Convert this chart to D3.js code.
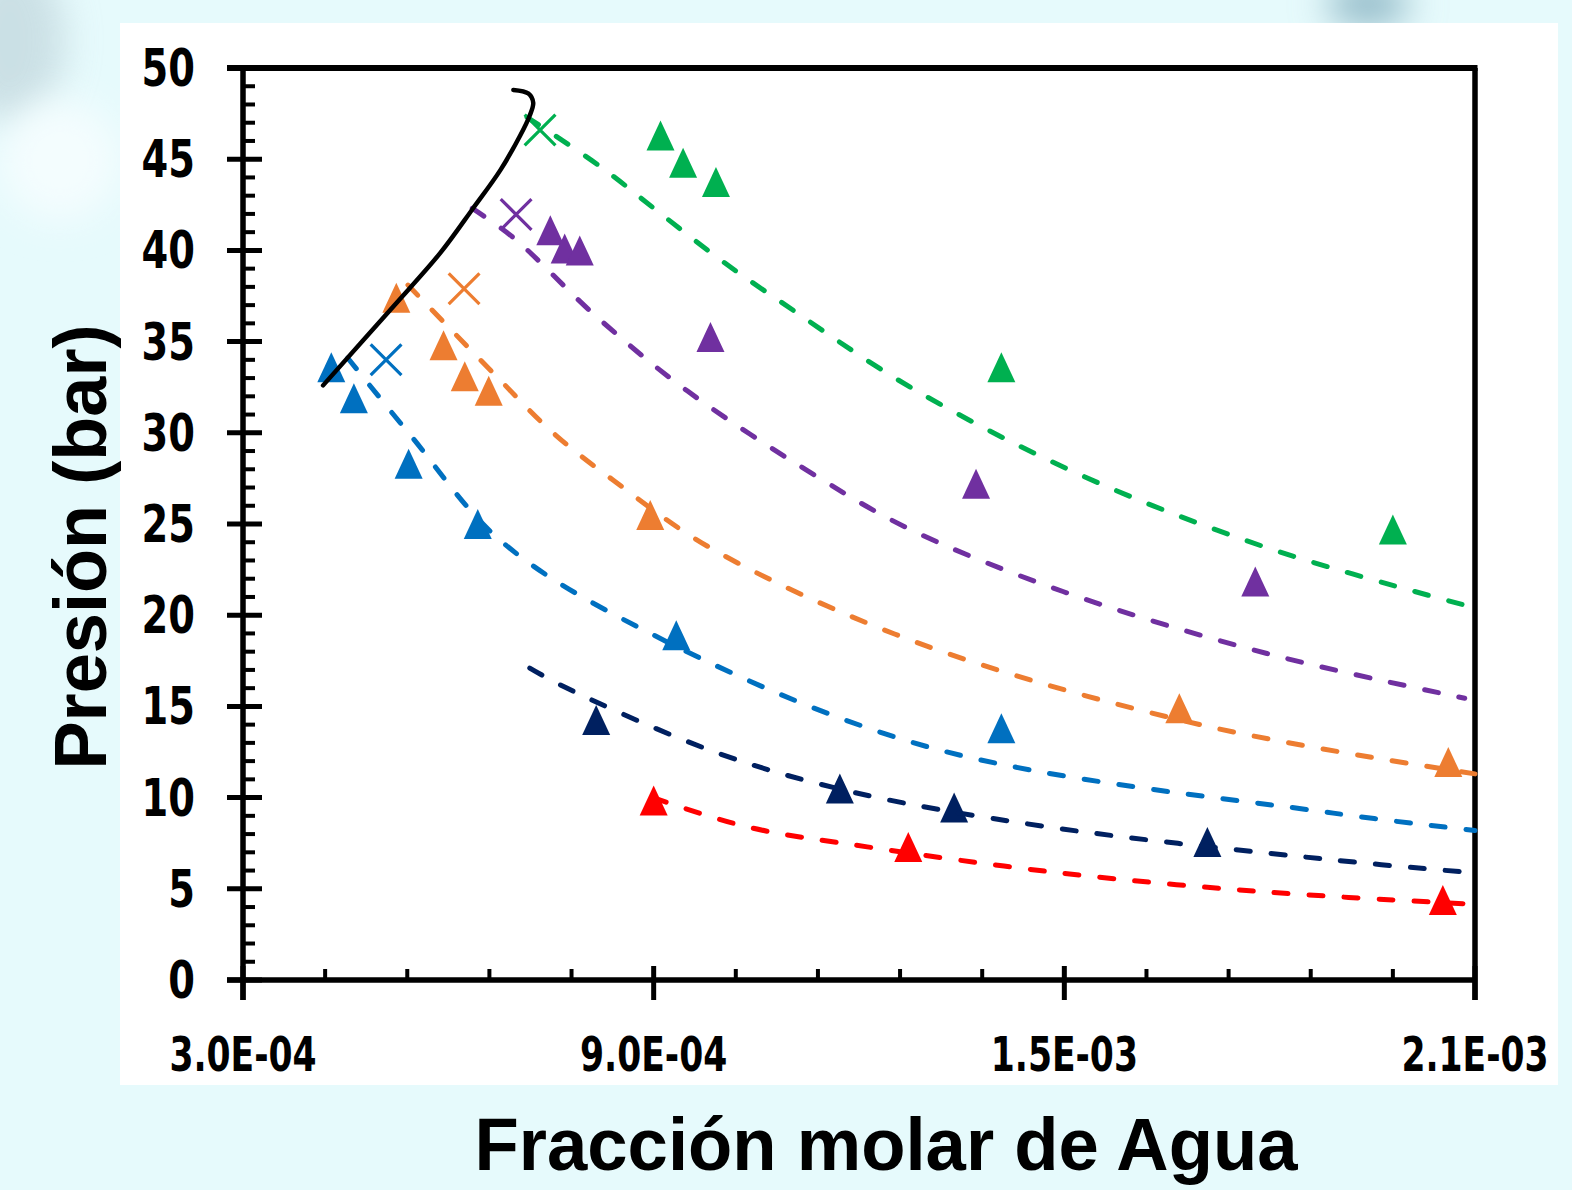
<!DOCTYPE html>
<html><head><meta charset="utf-8">
<script src="https://cdn.jsdelivr.net/npm/d3@7"></script>
<style>body{margin:0;background:#e6fafc}svg{display:block}</style>
</head><body>
<svg id="c" width="1572" height="1190"></svg>
<script>
// ---- data (x = water mole fraction, y = pressure in bar) ----
const xTicks = [3.0e-4, 9.0e-4, 1.5e-3, 2.1e-3];
const xTickLabels = ["3.0E-04", "9.0E-04", "1.5E-03", "2.1E-03"];
const yTicks = [0, 5, 10, 15, 20, 25, 30, 35, 40, 45, 50];
const yTickLabels = ["0", "5", "10", "15", "20", "25", "30", "35", "40", "45", "50"];

const envelope = [[4.17e-4,32.6],[5.19e-4,36.9],[5.88e-4,39.85],[6.36e-4,42.3],[6.76e-4,44.4],[7.05e-4,46.3],[7.19e-4,47.4],[7.24e-4,48.1],[7.17e-4,48.6],[6.95e-4,48.8]];

const blueTri = [[4.29e-4,33.6],[4.62e-4,31.9],[5.42e-4,28.3],[6.43e-4,25.0],[9.33e-4,18.9],[1.408e-3,13.8]];
const blueCross = [[5.09e-4,34.0]];
const blueCurve = [[4.53e-4,34.1],[5.44e-4,29.9],[6.76e-4,24.1],[8.9e-4,19.1],[1.299e-3,12.8],[1.893e-3,9.15],[2.1e-3,8.2]];

const orangeTri = [[5.24e-4,37.4],[5.93e-4,34.8],[6.24e-4,33.1],[6.59e-4,32.3],[8.95e-4,25.5],[1.668e-3,14.9],[2.061e-3,11.95]];
const orangeCross = [[6.23e-4,37.9]];
const orangeCurve = [[5.41e-4,38.1],[6.65e-4,33.3],[7.53e-4,30.0],[8.41e-4,27.4],[9.87e-4,23.6],[1.285e-3,18.5],[1.698e-3,14.0],[2.1e-3,11.3]];

const purpleTri = [[7.49e-4,41.1],[7.70e-4,40.1],[7.92e-4,40.0],[9.83e-4,35.25],[1.371e-3,27.2],[1.779e-3,21.85]];
const purpleCross = [[6.99e-4,41.97]];
const purpleCurve = [[6.35e-4,42.3],[6.95e-4,40.7],[8.17e-4,36.35],[9.49e-4,32.3],[1.143e-3,27.5],[1.275e-3,24.7],[1.498e-3,21.3],[1.796e-3,17.9],[2.085e-3,15.45]];

const greenTri = [[9.10e-4,46.3],[9.43e-4,44.8],[9.91e-4,43.75],[1.408e-3,33.6],[1.980e-3,24.7]];
const greenCross = [[7.34e-4,46.6]];
const greenCurve = [[7.15e-4,47.3],[8.22e-4,44.6],[9.09e-4,42.05],[9.97e-4,39.5],[1.085e-3,37.2],[1.275e-3,32.5],[1.523e-3,27.7],[1.796e-3,23.7],[2.1e-3,20.4]];

const navyTri = [[8.16e-4,14.25],[1.172e-3,10.5],[1.339e-3,9.46],[1.709e-3,7.57]];
const navyCurve = [[7.19e-4,17.1],[7.70e-4,16.06],[9.93e-4,12.45],[1.191e-3,10.3],[1.475e-3,8.4],[1.893e-3,6.58],[2.1e-3,5.87]];

const redTri = [[9.0e-4,9.84],[1.272e-3,7.29],[2.053e-3,4.39]];
const redCurve = [[8.99e-4,10.0],[1.036e-3,8.4],[1.212e-3,7.3],[1.494e-3,5.87],[1.796e-3,4.82],[2.09e-3,4.17]];

const series = [
  {color:"#ED7D31", tri:orangeTri, cross:orangeCross, curve:orangeCurve},
  {color:"#0070C0", tri:blueTri, cross:blueCross, curve:blueCurve},
  {color:"#7030A0", tri:purpleTri, cross:purpleCross, curve:purpleCurve},
  {color:"#00B050", tri:greenTri, cross:greenCross, curve:greenCurve},
  {color:"#002060", tri:navyTri, cross:[], curve:navyCurve},
  {color:"#FF0000", tri:redTri, cross:[], curve:redCurve}
];

// ---- drawing ----
const svg = d3.select("#c");
const L = 243, R = 1475, T = 68, B = 980;
const x = d3.scaleLinear().domain([3.0e-4, 2.1e-3]).range([L, R]);
const y = d3.scaleLinear().domain([0, 50]).range([B, T]);

const defs = svg.append("defs");
const bl = defs.append("filter").attr("id","blur").attr("x","-50%").attr("y","-50%").attr("width","200%").attr("height","200%");
bl.append("feGaussianBlur").attr("stdDeviation", 18);

// background
svg.append("rect").attr("width",1572).attr("height",1190).attr("fill","#e6fafc");
svg.append("ellipse").attr("cx",10).attr("cy",40).attr("rx",55).attr("ry",85).attr("fill","#b9cfd6").attr("filter","url(#blur)").attr("opacity",0.6);
svg.append("ellipse").attr("cx",60).attr("cy",160).attr("rx",60).attr("ry",60).attr("fill","#f4fdfe").attr("filter","url(#blur)");
svg.append("ellipse").attr("cx",1368).attr("cy",4).attr("rx",42).attr("ry",22).attr("fill","#8fb8c6").attr("filter","url(#blur)");
svg.append("rect").attr("x",120).attr("y",23).attr("width",1438).attr("height",1062).attr("fill","#ffffff");

const tickFont = "'Liberation Sans Narrow','Arial Narrow','DejaVu Sans Condensed',sans-serif";
const titleFont = "'Liberation Sans','Open Sans',Arial,sans-serif";

// minor ticks
const g = svg.append("g").attr("stroke","#000").attr("fill","none");
d3.range(0, 51, 1).filter(v => v % 5 !== 0).forEach(v => {
  g.append("line").attr("x1", L).attr("x2", L + 12).attr("y1", y(v)).attr("y2", y(v)).attr("stroke-width", 4);
});
d3.range(0, 16).map(i => 3.0e-4 + i * 1.2e-4).forEach((v, i) => {
  if (i % 5 === 0) return;
  g.append("line").attr("x1", x(v)).attr("x2", x(v)).attr("y1", B).attr("y2", B - 11).attr("stroke-width", 4);
});
// major ticks
yTicks.forEach(v => {
  g.append("line").attr("x1", L - 16).attr("x2", L + 19).attr("y1", y(v)).attr("y2", y(v)).attr("stroke-width", 5);
});
xTicks.forEach(v => {
  g.append("line").attr("x1", x(v)).attr("x2", x(v)).attr("y1", B - 14).attr("y2", B + 20).attr("stroke-width", 5);
});
// frame
g.append("line").attr("x1", L - 16).attr("x2", R + 2.5).attr("y1", T).attr("y2", T).attr("stroke-width", 6);
g.append("line").attr("x1", R).attr("x2", R).attr("y1", T).attr("y2", B + 20).attr("stroke-width", 5.5);
g.append("line").attr("x1", L).attr("x2", L).attr("y1", T).attr("y2", B + 20).attr("stroke-width", 5.5);
g.append("line").attr("x1", L - 16).attr("x2", R).attr("y1", B).attr("y2", B).attr("stroke-width", 5.5);

// tick labels (condensed look via horizontal scale)
svg.append("g").selectAll("text").data(yTicks).join("text")
  .attr("transform", d => `translate(195,${y(d) + 18}) scale(0.82,1)`).attr("text-anchor","end")
  .attr("font-family", tickFont).attr("font-weight","bold").attr("font-size", 52)
  .text((d, i) => yTickLabels[i]);
svg.append("g").selectAll("text").data(xTicks).join("text")
  .attr("transform", d => `translate(${x(d)},1071) scale(0.8,1)`).attr("text-anchor","middle")
  .attr("font-family", tickFont).attr("font-weight","bold").attr("font-size", 48)
  .text((d, i) => xTickLabels[i]);

// axis titles
svg.append("text").attr("transform","translate(106,547) rotate(-90)").attr("text-anchor","middle")
  .attr("font-family", titleFont).attr("font-weight","bold").attr("font-size", 74)
  .attr("textLength", 445).attr("lengthAdjust","spacingAndGlyphs")
  .text("Presión (bar)");
svg.append("text").attr("x", 886).attr("y", 1170).attr("text-anchor","middle")
  .attr("font-family", titleFont).attr("font-weight","bold").attr("font-size", 74)
  .attr("textLength", 823).attr("lengthAdjust","spacingAndGlyphs")
  .text("Fracción molar de Agua");

// markers
const triangle = {draw(ctx, size){ const w = 28, h = 30; ctx.moveTo(0, -h/2); ctx.lineTo(w/2, h/2); ctx.lineTo(-w/2, h/2); ctx.closePath(); }};
const tri = d3.symbol().type(triangle).size(1);
const cross = d3.symbol().type(d3.symbolTimes).size(620);

const line = d3.line().x(d => x(d[0])).y(d => y(d[1])).curve(d3.curveCatmullRom.alpha(0.5));

series.forEach(s => {
  svg.append("g").selectAll("path").data(s.tri).join("path")
    .attr("transform", d => `translate(${x(d[0])},${y(d[1])})`)
    .attr("d", tri).attr("fill", s.color);
  svg.append("g").selectAll("path").data(s.cross).join("path")
    .attr("transform", d => `translate(${x(d[0])},${y(d[1])})`)
    .attr("d", cross).attr("fill","none").attr("stroke", s.color).attr("stroke-width", 3.2);
});
series.forEach(s => {
  svg.append("path").datum(s.curve).attr("d", line)
    .attr("fill","none").attr("stroke", s.color).attr("stroke-width", 5)
    .attr("stroke-dasharray","14 21").attr("stroke-linecap","round");
});
svg.append("path").datum(envelope).attr("d", line)
  .attr("fill","none").attr("stroke","#000").attr("stroke-width", 4.5).attr("stroke-linecap","round");
</script>
</body></html>
